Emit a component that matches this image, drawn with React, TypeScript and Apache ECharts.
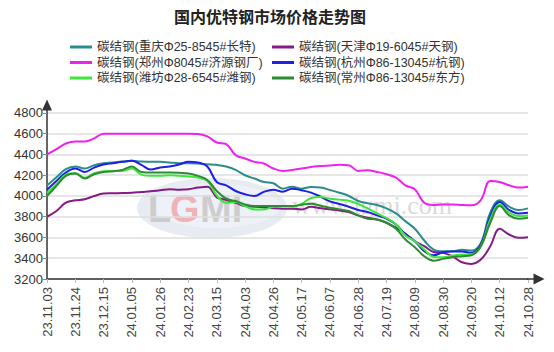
import React, { useEffect, useRef } from "react";
import * as echarts from "echarts";

const categories = [
  "23.11.03", "23.11.10", "23.11.17", "23.11.24", "23.12.01", "23.12.08", "23.12.15", "23.12.22", "23.12.29",
  "24.01.05", "24.01.12", "24.01.19", "24.01.26", "24.02.02", "24.02.09", "24.02.23", "24.03.01", "24.03.08",
  "24.03.15", "24.03.22", "24.03.29", "24.04.03", "24.04.12", "24.04.19", "24.04.26", "24.05.06", "24.05.10",
  "24.05.17", "24.05.24", "24.05.31", "24.06.07", "24.06.14", "24.06.21", "24.06.28", "24.07.05", "24.07.12",
  "24.07.19", "24.07.26", "24.08.02", "24.08.09", "24.08.16", "24.08.23", "24.08.30", "24.09.06", "24.09.13",
  "24.09.20", "24.09.27", "24.10.08", "24.10.12", "24.10.18", "24.10.25", "24.10.28",
];

const seriesNames = [
  "碳结钢(重庆Φ25-8545#长特)",
  "碳结钢(天津Φ19-6045#天钢)",
  "碳结钢(郑州Φ8045#济源钢厂)",
  "碳结钢(杭州Φ86-13045#杭钢)",
  "碳结钢(潍坊Φ28-6545#潍钢)",
  "碳结钢(常州Φ86-13045#东方)",
];

const seriesColors = ["#2b8c8c", "#861b86", "#ee22ee", "#1f1fe6", "#3ce63c", "#2f8a35"];

const chongqing = [4100, 4180, 4258, 4284, 4265, 4297, 4316, 4323, 4332, 4339, 4332, 4329, 4329, 4323, 4316, 4316, 4313, 4306, 4300, 4284, 4252, 4200, 4168, 4135, 4123, 4071, 4090, 4071, 4087, 4081, 4058, 4032, 4000, 3952, 3929, 3913, 3881, 3832, 3758, 3684, 3571, 3484, 3468, 3468, 3481, 3474, 3548, 3839, 3958, 3897, 3865, 3881];
const tianjin = [3800, 3855, 3935, 3958, 3968, 4000, 4023, 4026, 4029, 4032, 4039, 4045, 4055, 4065, 4061, 4065, 4081, 4090, 3987, 3961, 3935, 3903, 3897, 3890, 3881, 3877, 3877, 3871, 3897, 3881, 3871, 3861, 3845, 3813, 3790, 3774, 3742, 3694, 3639, 3565, 3516, 3461, 3452, 3419, 3361, 3345, 3387, 3516, 3684, 3629, 3597, 3603];
const zhengzhou = [4400, 4452, 4506, 4526, 4526, 4556, 4600, 4600, 4600, 4600, 4600, 4600, 4600, 4600, 4600, 4600, 4598, 4574, 4516, 4500, 4394, 4361, 4329, 4313, 4265, 4242, 4250, 4265, 4280, 4288, 4295, 4300, 4297, 4242, 4248, 4232, 4210, 4177, 4103, 4065, 3935, 3913, 3919, 3919, 3913, 3910, 3961, 4145, 4135, 4103, 4081, 4090];
const hangzhou = [4060, 4145, 4226, 4265, 4232, 4274, 4303, 4316, 4329, 4339, 4300, 4255, 4275, 4284, 4303, 4329, 4323, 4284, 4135, 4103, 4048, 4016, 4000, 4040, 4060, 4040, 4071, 4055, 4032, 3994, 3948, 3923, 3897, 3865, 3845, 3813, 3781, 3726, 3629, 3565, 3468, 3429, 3458, 3465, 3465, 3452, 3532, 3806, 3942, 3865, 3832, 3839];
const weifang = [4030, 4113, 4206, 4219, 4177, 4219, 4239, 4242, 4242, 4265, 4206, 4194, 4194, 4200, 4194, 4187, 4177, 4145, 4006, 3935, 3942, 3903, 3871, 3871, 3897, 3903, 3897, 3923, 3981, 3990, 3974, 3965, 3955, 3923, 3881, 3832, 3787, 3726, 3619, 3565, 3484, 3413, 3410, 3426, 3435, 3439, 3516, 3774, 3919, 3839, 3806, 3813];
const changzhou = [4000, 4097, 4194, 4216, 4168, 4210, 4232, 4239, 4252, 4284, 4232, 4226, 4226, 4226, 4223, 4216, 4194, 4155, 4048, 3974, 3952, 3919, 3903, 3903, 3903, 3903, 3903, 3916, 3926, 3906, 3887, 3871, 3855, 3813, 3781, 3774, 3742, 3684, 3581, 3506, 3419, 3377, 3394, 3410, 3419, 3429, 3516, 3742, 3903, 3813, 3781, 3790];

const seriesValues = [chongqing, tianjin, zhengzhou, hangzhou, weifang, changzhou];

const yTicks = ["3200", "3400", "3600", "3800", "4000", "4200", "4400", "4600", "4800"];

export default function App() {
  const ref = useRef<HTMLDivElement>(null);
  useEffect(() => {
    const chart = echarts.init(ref.current!, null, { renderer: "svg" });
    const yMin = Number(yTicks[0]);
    const yStep = Number(yTicks[1]) - Number(yTicks[0]);
    const legendText = {
      fontSize: 12.5,
      fontFamily: "'Liberation Sans', 'Noto Sans CJK SC', sans-serif",
      color: "#333",
      lineHeight: 14,
    };
    const legendCommon = {
      orient: "vertical",
      top: 40,
      padding: 0,
      itemGap: 1.5,
      itemWidth: 22,
      itemHeight: 3,
      icon: "rect",
      textStyle: legendText,
    };
    chart.setOption({
      animation: false,
      backgroundColor: "#ffffff",
      title: {
        text: "国内优特钢市场价格走势图",
        left: 174,
        top: 8,
        padding: 0,
        textStyle: { fontSize: 16, fontWeight: "bold", fontFamily: "Noto Sans CJK SC", color: "#222" },
      },
      legend: [
        { ...legendCommon, left: 70, data: [seriesNames[0], seriesNames[2], seriesNames[4]] },
        { ...legendCommon, left: 272, data: [seriesNames[1], seriesNames[3], seriesNames[5]] },
      ],
      grid: { left: 47, right: 26, top: 105, bottom: 73 },
      xAxis: {
        type: "category",
        data: categories,
        boundaryGap: false,
        axisLine: {
          show: true,
          symbol: ["none", "triangle"],
          symbolSize: [11, 11],
          symbolOffset: [0, 11],
          lineStyle: { color: "#333", width: 1.5 },
        },
        axisTick: { show: true, interval: 2, length: 4, lineStyle: { color: "#bbb" } },
        axisLabel: {
          interval: 2,
          rotate: 90,
          margin: 8,
          fontSize: 13,
          fontFamily: "Liberation Sans",
          color: "#444",
        },
        splitLine: { show: false },
      },
      yAxis: {
        type: "value",
        min: yMin,
        max: 4877,
        interval: yStep,
        axisLine: {
          show: true,
          symbol: ["none", "triangle"],
          symbolSize: [10, 11],
          lineStyle: { color: "#333", width: 1.5 },
        },
        axisTick: { show: true, length: 4, lineStyle: { color: "#888" } },
        axisLabel: {
          showMaxLabel: false,
          margin: 4,
          fontSize: 13,
          fontFamily: "Liberation Sans",
          color: "#333",
          formatter: (v: number) => String(v),
        },
        splitLine: { show: true, showMaxLine: false, lineStyle: { color: "#dedede", width: 1.5 } },
      },
      graphic: [
        {
          type: "group",
          z: 1,
          silent: true,
          children: [
            { type: "ellipse", shape: { cx: 212, cy: 208, rx: 75, ry: 30 }, style: { fill: "#d3dcea", opacity: 0.55 } },
            { type: "ellipse", shape: { cx: 216, cy: 206, rx: 64, ry: 22 }, style: { fill: "#f1f4f9", opacity: 0.7 } },
            { type: "text", x: 148, y: 190, style: { text: "L", fontSize: 38, fontWeight: "bold", fontFamily: "Liberation Sans", fill: "#c4c4c4", opacity: 0.8 } },
            { type: "text", x: 170, y: 190, style: { text: "G", fontSize: 38, fontWeight: "bold", fontFamily: "Liberation Sans", fill: "#f2a0a8", opacity: 0.8 } },
            { type: "text", x: 200, y: 190, style: { text: "MI", fontSize: 38, fontWeight: "bold", fontFamily: "Liberation Sans", fill: "#c4c4c4", opacity: 0.8 } },
            { type: "text", x: 292, y: 192, style: { text: "www.lgmi.com", fontSize: 26, fontFamily: "Liberation Serif", fill: "#cfcfcf", opacity: 0.8 } },
          ],
        },
        {
          type: "line",
          z: 10,
          shape: { x1: 527, y1: 279, x2: 536, y2: 279 },
          style: { stroke: "#333", lineWidth: 1.5 },
        },
      ],
      series: seriesNames.map((name, idx) => ({
        name,
        type: "line",
        data: seriesValues[idx],
        smooth: 0.4,
        showSymbol: false,
        z: 3,
        color: seriesColors[idx],
        lineStyle: { width: 2, color: seriesColors[idx] },
      })),
    });
    return () => chart.dispose();
  }, []);
  return <div ref={ref} style={{ position: "absolute", left: 0, top: 0, width: 554, height: 352 }} />;
}
